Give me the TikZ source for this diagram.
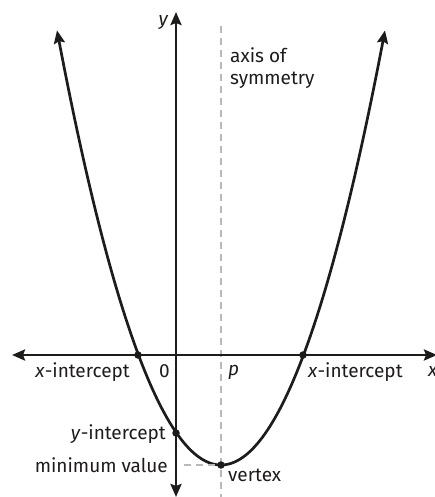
\documentclass[tikz,border=0pt]{standalone}
\usepackage{fontspec}
\setmainfont{Fira Sans}
\usetikzlibrary{arrows.meta}
\definecolor{symgrey}{RGB}{185,185,185}
\definecolor{ink}{RGB}{30,27,27}
\tikzset{
  axisline/.style={line width=2.8pt, draw=ink, -{Stealth[length=13pt,width=11pt,inset=2pt]}},
  curveline/.style={line width=2.7pt, draw=ink},
  symline/.style={line width=2.2pt, draw=symgrey, dash pattern=on 7pt off 5pt},
  dotnode/.style={circle, fill=ink, inner sep=0pt, minimum size=7.5pt},
  lbl/.style={font=\fontsize{19}{21}\selectfont, text=ink, inner sep=0pt}
}
\begin{document}
\begin{tikzpicture}[x=1pt,y=-1pt]
\useasboundingbox (0,0) rectangle (435,497);
% key points
\coordinate (O) at (176,355);
\coordinate (xl) at (12,355);
\coordinate (xr) at (437,355);
\coordinate (yt) at (176,12);
\coordinate (yb) at (176,497);
\coordinate (st) at (221,26);
\coordinate (sb) at (221,497);
\coordinate (mv) at (184,465);
% axis of symmetry
\draw[symline] (st) -- (sb);
% axes
\draw[axisline] (O) -- (xl);
\draw[axisline] (O) -- (xr);
\draw[axisline] (O) -- (yt);
\draw[axisline] (O) -- (yb);
% parabola
\draw[curveline, {Stealth[length=13pt,width=11pt,inset=2pt]}-{Stealth[length=13pt,width=11pt,inset=2pt]}]
  plot[domain=-16.4:16.4, samples=120, smooth] ({221+10*\x},{465-1.616*\x*\x});
% dashed to min value
\node[dotnode] (V) at (221,465) {};
\draw[symline] (mv) -- (V);
% dots
\node[dotnode] (X1) at (138,355) {};
\node[dotnode] (X2) at (303,355) {};
\node[dotnode] (Yi) at (176,433) {};
% labels
\node[lbl, anchor=east] (ylab) at (168,23) {\itshape y};
\node[lbl, anchor=west] (xlab) at (428,371) {\itshape x};
\node[lbl, anchor=north west, align=left, font=\fontsize{19}{22}\selectfont] (axs) at (230,47) {axis of\\symmetry};
\node[lbl, anchor=east] (xi1) at (130,372) {\textit{x}-intercept};
\node[lbl, anchor=west] (xi2) at (308,372) {\textit{x}-intercept};
\node[lbl, anchor=east] (zero) at (170,371) {0};
\node[lbl, anchor=west] (plab) at (228,372) {\itshape p};
\node[lbl, anchor=east] (yil) at (166,434) {\textit{y}-intercept};
\node[lbl, anchor=east] (minv) at (168,465) {minimum value};
\node[lbl, anchor=west] (vtx) at (228,475) {vertex};
\end{tikzpicture}
\end{document}
